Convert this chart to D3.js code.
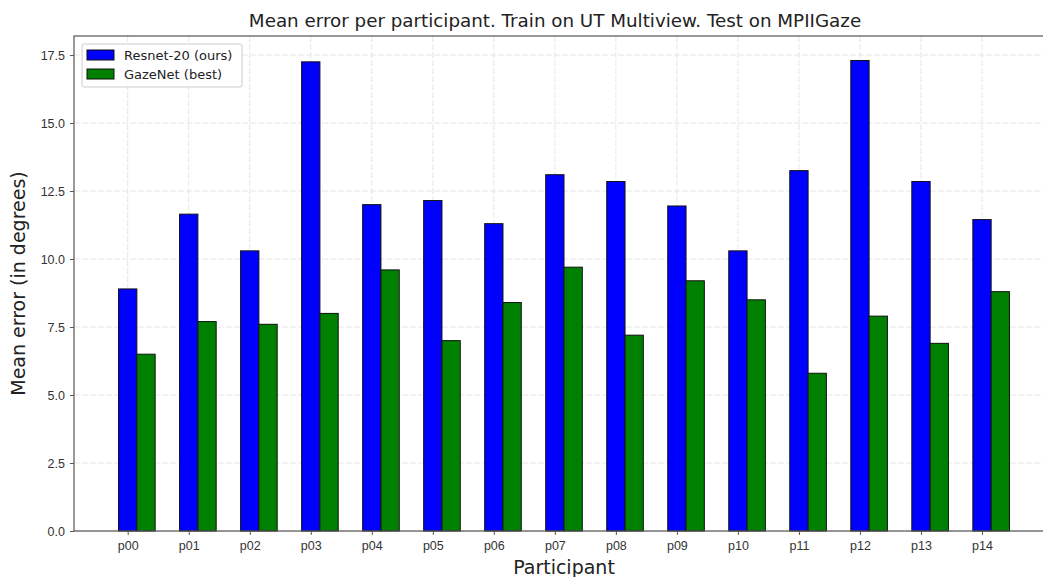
<!DOCTYPE html>
<html>
<head>
<meta charset="utf-8">
<script src="https://cdn.jsdelivr.net/npm/d3@7"></script>
<style>
  body { margin: 0; background: #fff; }
  svg { font-family: "DejaVu Sans", sans-serif; }
  .tick text { fill: #333; font-size: 12.5px; }
</style>
</head>
<body>
<script>
// participants and per-participant mean errors
var participants = ["p00","p01","p02","p03","p04","p05","p06","p07","p08","p09","p10","p11","p12","p13","p14"];
var resnet = [8.9, 11.65, 10.3, 17.25, 12.0, 12.15, 11.3, 13.1, 12.85, 11.95, 10.3, 13.25, 17.3, 12.85, 11.45];
var gazenet = [6.5, 7.7, 7.6, 8.0, 9.6, 7.0, 8.4, 9.7, 7.2, 9.2, 8.5, 5.8, 7.9, 6.9, 8.8];
var yTicks = [0, 2.5, 5, 7.5, 10, 12.5, 15, 17.5];
var seriesNames = ["Resnet-20 (ours)", "GazeNet (best)"];
var seriesColors = ["#0000ff", "#008000"];

let Barchart = function() {
    var w = 1043, h = 577;
    // plot box (right side runs past the picture edge, like the reference)
    var pLeft = 74, pRight = 1054, pTop = 36, pBottom = 531;
    var barW = 0.3;

    var svg = d3.select("body").append("svg")
        .attr("width", w)
        .attr("height", h);

    var xScale = d3.scaleLinear()
        .domain([-0.88, participants.length - 1 + 0.3 + 0.15 + 0.73])
        .range([pLeft, pRight]);
    var yScale = d3.scaleLinear()
        .domain([0, 18.2])
        .range([pBottom, pTop]);

    // grid
    svg.append("g").selectAll("line")
        .data(yTicks).enter().append("line")
        .attr("x1", pLeft).attr("x2", pRight)
        .attr("y1", function(d) { return yScale(d); })
        .attr("y2", function(d) { return yScale(d); })
        .attr("stroke", "#e6e6e6").attr("stroke-dasharray", "6,2");
    svg.append("g").selectAll("line")
        .data(participants).enter().append("line")
        .attr("x1", function(d, i) { return xScale(i); })
        .attr("x2", function(d, i) { return xScale(i); })
        .attr("y1", pTop).attr("y2", pBottom)
        .attr("stroke", "#e6e6e6").attr("stroke-dasharray", "6,2");

    // bars
    [resnet, gazenet].forEach(function(vals, s) {
        svg.append("g").selectAll("rect")
            .data(vals).enter().append("rect")
            .attr("x", function(d, i) { return xScale(i + s * barW - barW / 2); })
            .attr("width", xScale(barW) - xScale(0))
            .attr("y", function(d) { return yScale(d); })
            .attr("height", function(d) { return yScale(0) - yScale(d); })
            .attr("fill", seriesColors[s])
            .attr("stroke", "#111")
            .attr("stroke-width", 1);
    });

    // axes
    var xAxis = d3.axisBottom(xScale)
        .tickValues(d3.range(participants.length))
        .tickFormat(function(i) { return participants[i]; })
        .tickSize(4).tickPadding(6);
    var yAxis = d3.axisLeft(yScale)
        .tickValues(yTicks)
        .tickFormat(d3.format(".1f"))
        .tickSize(4).tickPadding(5);

    var gx = svg.append("g")
        .attr("transform", "translate(0," + pBottom + ")")
        .call(xAxis);
    var gy = svg.append("g")
        .attr("transform", "translate(" + pLeft + ",0)")
        .call(yAxis);
    [gx, gy].forEach(function(g) {
        g.select(".domain").remove();
        g.selectAll(".tick line").attr("stroke", "#555");
    });

    // frame
    svg.append("rect")
        .attr("x", pLeft).attr("y", pTop)
        .attr("width", pRight - pLeft).attr("height", pBottom - pTop)
        .attr("fill", "none").attr("stroke", "#555").attr("stroke-width", 1.2);

    // titles
    svg.append("text")
        .attr("x", 555).attr("y", 27)
        .attr("text-anchor", "middle")
        .attr("font-size", "18.3px").attr("fill", "#222")
        .text("Mean error per participant. Train on UT Multiview. Test on MPIIGaze");
    svg.append("text")
        .attr("x", 564).attr("y", 574)
        .attr("text-anchor", "middle")
        .attr("font-size", "19px").attr("fill", "#222")
        .text("Participant");
    svg.append("text")
        .attr("transform", "translate(25," + ((pTop + pBottom) / 2) + ") rotate(-90)")
        .attr("text-anchor", "middle")
        .attr("font-size", "19px").attr("fill", "#222")
        .text("Mean error (in degrees)");

    // legend
    var lg = svg.append("g").attr("transform", "translate(82,44)");
    lg.append("rect")
        .attr("width", 160).attr("height", 43).attr("rx", 2)
        .attr("fill", "#fff").attr("fill-opacity", 0.8)
        .attr("stroke", "#ccc");
    seriesNames.forEach(function(name, s) {
        lg.append("rect")
            .attr("x", 5).attr("y", 6 + s * 19)
            .attr("width", 27).attr("height", 10)
            .attr("fill", seriesColors[s]).attr("stroke", "#111");
        lg.append("text")
            .attr("x", 42).attr("y", 16 + s * 19)
            .attr("font-size", "13px").attr("fill", "#222")
            .text(name);
    });
};

Barchart();
</script>
</body>
</html>
